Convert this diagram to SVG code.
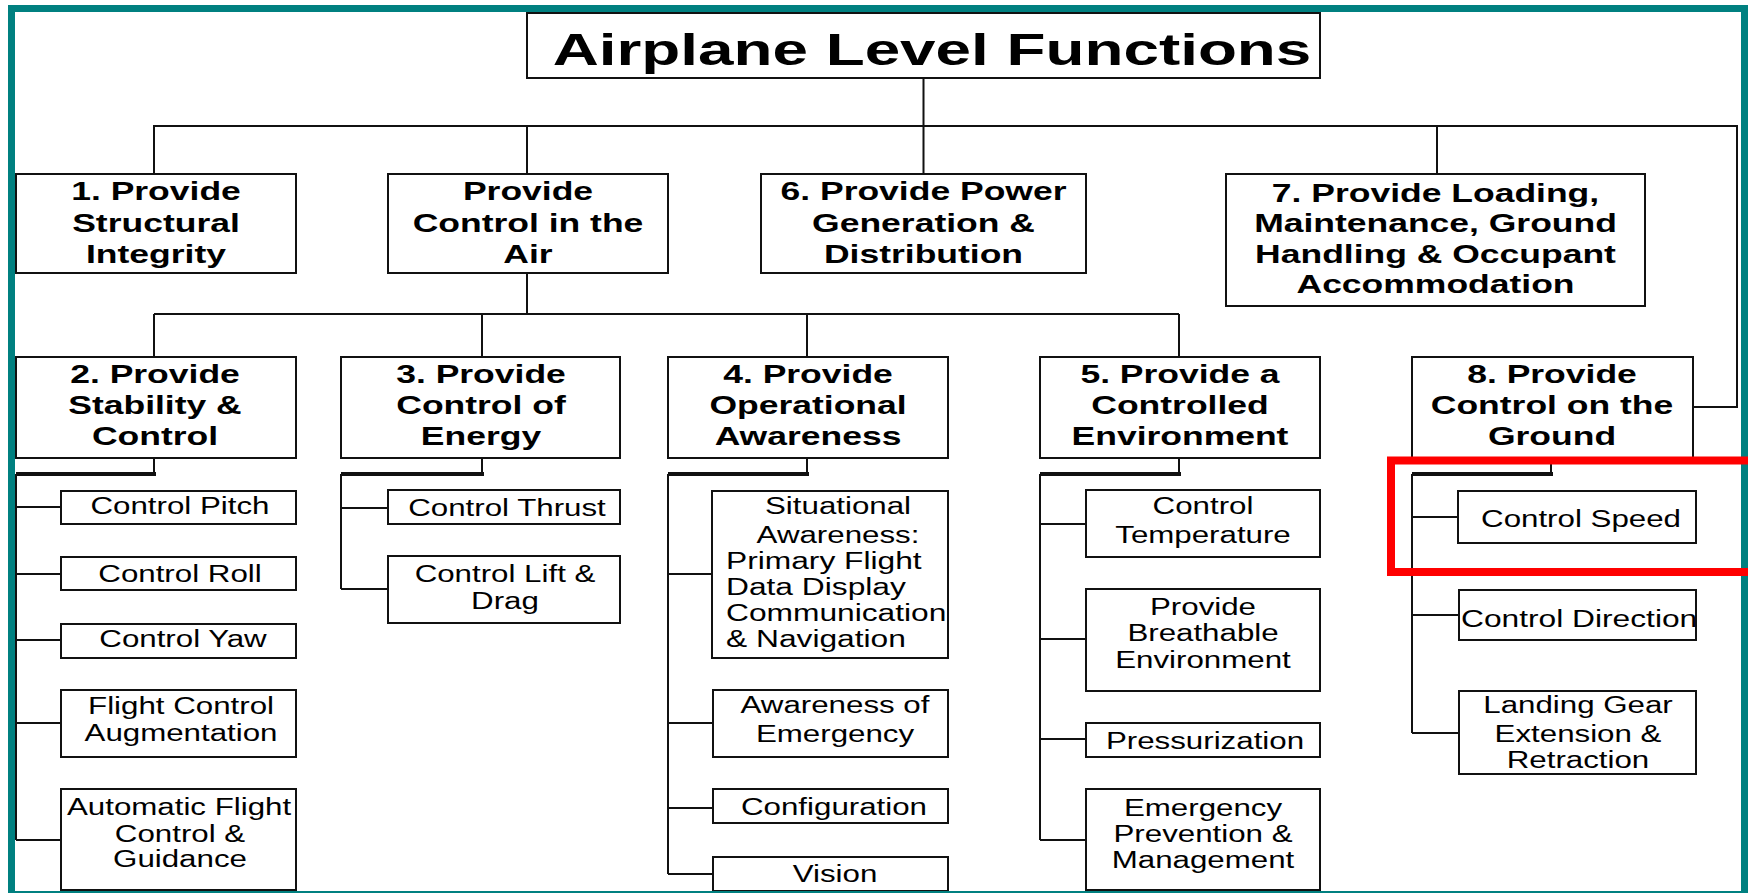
<svg xmlns="http://www.w3.org/2000/svg" width="1748" height="893" viewBox="0 0 1748 893">
<style>
.box{fill:#fff;stroke:#111;stroke-width:2}
.ln{fill:none;stroke:#111;stroke-width:2}
.thick{fill:none;stroke:#111;stroke-width:4}
.tt{font-family:"Liberation Sans",Arial,sans-serif;font-weight:bold;font-size:44px;fill:#000;text-anchor:middle}
.b{font-family:"Liberation Sans",Arial,sans-serif;font-weight:bold;font-size:25px;fill:#000;text-anchor:middle}
.r{font-family:"Liberation Sans",Arial,sans-serif;font-size:23px;fill:#000;text-anchor:middle}
.rs{font-family:"Liberation Sans",Arial,sans-serif;font-size:23px;fill:#000;text-anchor:start}
.teal{fill:#008080}
</style>
<defs>
<clipPath id="clipSit"><rect x="712" y="491" width="236" height="167"/></clipPath>
<clipPath id="clipDir"><rect x="1459" y="590" width="237" height="50"/></clipPath>
</defs>
<rect x="0" y="0" width="1748" height="893" fill="#fff"/>

<g id="connectors">
<path class="ln" d="M923.5,78 V174 M154,174 V126 H1737 V407 H1693 M527,126 V174 M1437,126 V174"/>
<path class="ln" d="M527,273 V314 M154,314 H1179 M154,314 V357 M482,314 V357 M807,314 V357 M1179,314 V357"/>
<path class="ln" d="M154,458 V474 M16,474 V840 M16,507 H61 M16,574 H61 M16,640 H61 M16,723 H61 M16,840 H61"/>
<path class="thick" d="M156,474 H16"/>
<path class="ln" d="M482,458 V474 M341,474 V589 M341,508 H388 M341,589 H388"/>
<path class="thick" d="M484,474 H341"/>
<path class="ln" d="M807,458 V474 M668,474 V874 M668,574 H712 M668,723 H713 M668,808 H713 M668,874 H713"/>
<path class="thick" d="M809,474 H668"/>
<path class="ln" d="M1179,458 V474 M1040,474 V840 M1040,524 H1086 M1040,639 H1086 M1040,739 H1086 M1040,840 H1086"/>
<path class="thick" d="M1181,474 H1040"/>
<path class="ln" d="M1551,458 V474 M1412,474 V733 M1412,517 H1458 M1412,615 H1459 M1412,733 H1459"/>
<path class="thick" d="M1553,474 H1412"/>
</g>

<g id="title">
<rect class="box" x="527" y="13" width="793" height="65"/>
<g transform="translate(932 0) scale(1.45 1)"><text class="tt" x="0" y="65">Airplane Level Functions</text></g>
</g>

<g id="n1">
<rect class="box" x="16" y="174" width="280" height="99"/>
<g transform="translate(156 0) scale(1.42 1)"><text class="b"><tspan x="0" y="200">1. Provide</tspan><tspan x="0" y="232">Structural</tspan><tspan x="0" y="263">Integrity</tspan></text></g>
</g>
<g id="nAir">
<rect class="box" x="388" y="174" width="280" height="99"/>
<g transform="translate(528 0) scale(1.42 1)"><text class="b"><tspan x="0" y="200">Provide</tspan><tspan x="0" y="232">Control in the</tspan><tspan x="0" y="263">Air</tspan></text></g>
</g>
<g id="n6">
<rect class="box" x="761" y="174" width="325" height="99"/>
<g transform="translate(923.5 0) scale(1.42 1)"><text class="b"><tspan x="0" y="200">6. Provide Power</tspan><tspan x="0" y="232">Generation &amp;</tspan><tspan x="0" y="263">Distribution</tspan></text></g>
</g>
<g id="n7">
<rect class="box" x="1226" y="174" width="419" height="132"/>
<g transform="translate(1435.5 0) scale(1.42 1)"><text class="b"><tspan x="0" y="202">7. Provide Loading,</tspan><tspan x="0" y="232">Maintenance, Ground</tspan><tspan x="0" y="263">Handling &amp; Occupant</tspan><tspan x="0" y="293">Accommodation</tspan></text></g>
</g>

<g id="n2">
<rect class="box" x="16" y="357" width="280" height="101"/>
<g transform="translate(155 0) scale(1.42 1)"><text class="b"><tspan x="0" y="383">2. Provide</tspan><tspan x="0" y="414">Stability &amp;</tspan><tspan x="0" y="445">Control</tspan></text></g>
</g>
<g id="n3">
<rect class="box" x="341" y="357" width="279" height="101"/>
<g transform="translate(481 0) scale(1.42 1)"><text class="b"><tspan x="0" y="383">3. Provide</tspan><tspan x="0" y="414">Control of</tspan><tspan x="0" y="445">Energy</tspan></text></g>
</g>
<g id="n4">
<rect class="box" x="668" y="357" width="280" height="101"/>
<g transform="translate(808 0) scale(1.42 1)"><text class="b"><tspan x="0" y="383">4. Provide</tspan><tspan x="0" y="414">Operational</tspan><tspan x="0" y="445">Awareness</tspan></text></g>
</g>
<g id="n5">
<rect class="box" x="1040" y="357" width="280" height="101"/>
<g transform="translate(1180 0) scale(1.42 1)"><text class="b"><tspan x="0" y="383">5. Provide a</tspan><tspan x="0" y="414">Controlled</tspan><tspan x="0" y="445">Environment</tspan></text></g>
</g>
<g id="n8">
<rect class="box" x="1412" y="357" width="281" height="101"/>
<g transform="translate(1552 0) scale(1.42 1)"><text class="b"><tspan x="0" y="383">8. Provide</tspan><tspan x="0" y="414">Control on the</tspan><tspan x="0" y="445">Ground</tspan></text></g>
</g>

<g id="c-pitch">
<rect class="box" x="61" y="491" width="235" height="33"/>
<g transform="translate(180 0) scale(1.36 1)"><text class="r" x="0" y="514">Control Pitch</text></g>
</g>
<g id="c-roll">
<rect class="box" x="61" y="557" width="235" height="33"/>
<g transform="translate(180 0) scale(1.36 1)"><text class="r" x="0" y="582">Control Roll</text></g>
</g>
<g id="c-yaw">
<rect class="box" x="61" y="624" width="235" height="34"/>
<g transform="translate(183 0) scale(1.36 1)"><text class="r" x="0" y="647">Control Yaw</text></g>
</g>
<g id="c-fca">
<rect class="box" x="61" y="690" width="235" height="67"/>
<g transform="translate(181 0) scale(1.36 1)"><text class="r"><tspan x="0" y="714">Flight Control</tspan><tspan x="0" y="741">Augmentation</tspan></text></g>
</g>
<g id="c-afcg">
<rect class="box" x="61" y="789" width="235" height="101"/>
<g transform="translate(67 0) scale(1.36 1)"><text class="rs" x="0" y="815">Automatic Flight</text></g>
<g transform="translate(180 0) scale(1.36 1)"><text class="r"><tspan x="0" y="842">Control &amp;</tspan><tspan x="0" y="867">Guidance</tspan></text></g>
</g>

<g id="c-thrust">
<rect class="box" x="388" y="490" width="232" height="34"/>
<g transform="translate(507 0) scale(1.36 1)"><text class="r" x="0" y="516">Control Thrust</text></g>
</g>
<g id="c-lift">
<rect class="box" x="388" y="556" width="232" height="67"/>
<g transform="translate(505 0) scale(1.36 1)"><text class="r"><tspan x="0" y="582">Control Lift &amp;</tspan><tspan x="0" y="609">Drag</tspan></text></g>
</g>

<g id="c-sit">
<rect class="box" x="712" y="491" width="236" height="167"/>
<g transform="translate(838 0) scale(1.36 1)"><text class="r"><tspan x="0" y="514">Situational</tspan><tspan x="0" y="543">Awareness:</tspan></text></g>
<g clip-path="url(#clipSit)"><g transform="translate(726 0) scale(1.38 1)"><text class="rs"><tspan x="0" y="569">Primary Flight</tspan><tspan x="0" y="595">Data Display</tspan><tspan x="0" y="621">Communication</tspan><tspan x="0" y="647">&amp; Navigation</tspan></text></g></g>
</g>
<g id="c-emerg">
<rect class="box" x="713" y="690" width="235" height="67"/>
<g transform="translate(835 0) scale(1.36 1)"><text class="r"><tspan x="0" y="713">Awareness of</tspan><tspan x="0" y="742">Emergency</tspan></text></g>
</g>
<g id="c-config">
<rect class="box" x="713" y="789" width="235" height="34"/>
<g transform="translate(834 0) scale(1.36 1)"><text class="r" x="0" y="815">Configuration</text></g>
</g>
<g id="c-vision">
<rect class="box" x="713" y="857" width="235" height="34"/>
<g transform="translate(835 0) scale(1.36 1)"><text class="r" x="0" y="882">Vision</text></g>
</g>

<g id="c-temp">
<rect class="box" x="1086" y="490" width="234" height="67"/>
<g transform="translate(1203 0) scale(1.36 1)"><text class="r"><tspan x="0" y="514">Control</tspan><tspan x="0" y="543">Temperature</tspan></text></g>
</g>
<g id="c-breath">
<rect class="box" x="1086" y="589" width="234" height="102"/>
<g transform="translate(1203 0) scale(1.36 1)"><text class="r"><tspan x="0" y="615">Provide</tspan><tspan x="0" y="641">Breathable</tspan><tspan x="0" y="668">Environment</tspan></text></g>
</g>
<g id="c-press">
<rect class="box" x="1086" y="723" width="234" height="34"/>
<g transform="translate(1205 0) scale(1.36 1)"><text class="r" x="0" y="749">Pressurization</text></g>
</g>
<g id="c-epm">
<rect class="box" x="1086" y="789" width="234" height="101"/>
<g transform="translate(1203 0) scale(1.36 1)"><text class="r"><tspan x="0" y="816">Emergency</tspan><tspan x="0" y="842">Prevention &amp;</tspan><tspan x="0" y="868">Management</tspan></text></g>
</g>

<g id="c-speed">
<rect class="box" x="1458" y="491" width="238" height="52"/>
<g transform="translate(1581 0) scale(1.36 1)"><text class="r" x="0" y="527">Control Speed</text></g>
</g>
<g id="c-dir">
<rect class="box" x="1459" y="590" width="237" height="50"/>
<g clip-path="url(#clipDir)"><g transform="translate(1461 0) scale(1.38 1)"><text class="rs" x="0" y="627">Control Direction</text></g></g>
</g>
<g id="c-gear">
<rect class="box" x="1459" y="691" width="237" height="83"/>
<g transform="translate(1578 0) scale(1.36 1)"><text class="r"><tspan x="0" y="713">Landing Gear</tspan><tspan x="0" y="742">Extension &amp;</tspan><tspan x="0" y="768">Retraction</tspan></text></g>
</g>

<g id="frame">
<rect class="teal" x="8" y="5" width="1740" height="7"/>
<rect class="teal" x="8" y="5" width="7" height="888"/>
<rect class="teal" x="1741" y="5" width="7" height="888"/>
<rect class="teal" x="8" y="891" width="1740" height="2"/>
</g>
<rect id="highlight" x="1391" y="460.5" width="420" height="111.5" fill="none" stroke="#ff0000" stroke-width="8"/>
</svg>
